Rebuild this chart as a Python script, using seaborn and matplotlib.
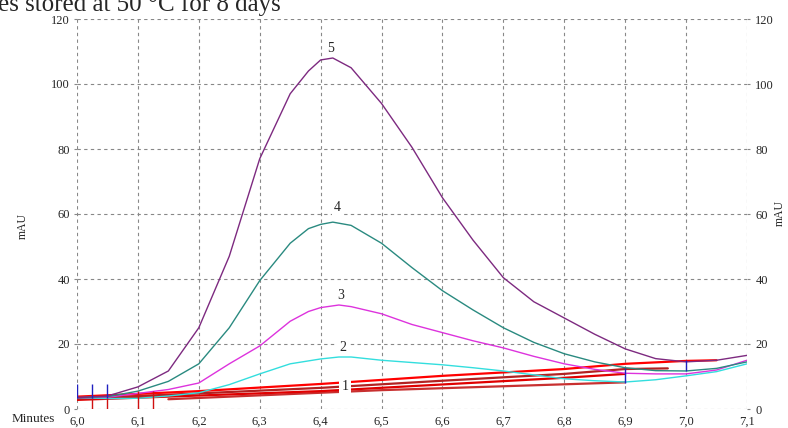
import matplotlib
matplotlib.use("Agg")
import matplotlib.pyplot as plt
import seaborn as sns
import pandas as pd

# DATA
x_tick_values = [6.0, 6.1, 6.2, 6.3, 6.4, 6.5, 6.6, 6.7, 6.8, 6.9, 7.0, 7.1]
x_tick_labels = ["6,0", "6,1", "6,2", "6,3", "6,4", "6,5", "6,6", "6,7", "6,8", "6,9", "7,0", "7,1"]
y_tick_values = [0, 20, 40, 60, 80, 100, 120]

time_5 = [6.00, 6.05, 6.10, 6.15, 6.20, 6.25, 6.30, 6.35, 6.38, 6.40, 6.42, 6.45, 6.50,
          6.55, 6.60, 6.65, 6.70, 6.75, 6.80, 6.85, 6.90, 6.95, 7.00, 7.05, 7.10]
mau_5 = [3.5, 4.0, 6.8, 11.7, 25, 47, 77, 97, 104, 107.4, 108, 105, 94,
         80.5, 65, 52, 40.4, 33, 28, 23, 18.5, 15.5, 14.5, 15, 16.5]

time_4 = [6.00, 6.05, 6.10, 6.15, 6.20, 6.25, 6.30, 6.35, 6.38, 6.40, 6.42, 6.45, 6.50,
          6.55, 6.60, 6.65, 6.70, 6.75, 6.80, 6.85, 6.90, 6.95, 7.00, 7.05, 7.10]
mau_4 = [3.5, 3.8, 5.5, 8.5, 13.9, 25, 39.5, 51, 55.5, 56.8, 57.5, 56.5, 51,
         43.5, 36.4, 30.5, 25, 20.5, 17, 14.5, 12.7, 11.8, 11.7, 12.5, 14.5]

time_3 = [6.00, 6.05, 6.10, 6.15, 6.20, 6.25, 6.30, 6.35, 6.38, 6.40, 6.43, 6.45, 6.50,
          6.55, 6.60, 6.65, 6.70, 6.75, 6.80, 6.85, 6.90, 6.95, 7.00, 7.05, 7.10]
mau_3 = [3.5, 3.6, 4.8, 6.0, 8.0, 13.9, 19.4, 27, 30, 31.2, 32, 31.5, 29.3,
         26, 23.5, 21, 18.8, 16.2, 13.9, 12.2, 11, 10.8, 10.8, 12, 15]

time_2 = [6.00, 6.05, 6.10, 6.15, 6.20, 6.25, 6.30, 6.35, 6.40, 6.43, 6.45, 6.50,
          6.55, 6.60, 6.65, 6.70, 6.75, 6.80, 6.85, 6.90, 6.95, 7.00, 7.05, 7.10]
mau_2 = [3.5, 3.2, 3.3, 4.0, 5.0, 7.5, 10.8, 13.9, 15.4, 16, 16, 15,
         14.3, 13.6, 12.7, 11.7, 10.5, 9.3, 8.7, 8.3, 9.0, 10.2, 11.5, 13.9]

# peak 1 is drawn as several overlapping red traces
time_1a = [6.00, 6.20, 6.40, 6.60, 6.80, 6.90, 7.00, 7.05]
mau_1a = [3.8, 5.5, 7.7, 10.2, 12.3, 13.9, 14.8, 15]
time_1b = [6.00, 6.20, 6.40, 6.60, 6.80, 6.90, 6.97]
mau_1b = [3.2, 4.8, 6.5, 8.7, 10.8, 12.3, 12.5]
time_1c = [6.00, 6.40, 6.80, 6.90]
mau_1c = [2.8, 5.5, 9.6, 10.8]
time_1d = [6.15, 6.50, 6.90]
mau_1d = [3.0, 5.8, 8.2]

# integration markers
blue_x = [6.0, 6.025, 6.05, 6.9, 7.0]
blue_lo = [3.4, 3.4, 3.4, 8.0, 11.7]
blue_hi = [7.7, 7.7, 7.7, 12.7, 15.0]
red_x = [6.025, 6.05, 6.1, 6.125]
red_lo = [0, 0, 0, 0]
red_hi = [3.4, 3.4, 5.5, 5.5]

peak_names = ["1", "2", "3", "4", "5"]
peak_label_x = [6.44, 6.436, 6.433, 6.428, 6.416]
peak_label_y = [6.8, 19, 35, 62, 111]

# PLOT
sns.set_style("white")
plt.rcParams["font.family"] = ["Liberation Serif", "DejaVu Serif"]

fig = plt.figure(figsize=(7.88, 4.28), dpi=100)
ax = fig.add_axes([77 / 788, 1 - 409 / 428, (747 - 77) / 788, (409 - 19) / 428])

traces = [
    (time_1d, mau_1d, "#c83030", 1.6),
    (time_1c, mau_1c, "#e00000", 1.6),
    (time_1b, mau_1b, "#b22222", 1.6),
    (time_1a, mau_1a, "#ff0000", 1.6),
    (time_2, mau_2, "#33dede", 1.0),
    (time_3, mau_3, "#dd33dd", 1.0),
    (time_4, mau_4, "#2a8a80", 1.0),
    (time_5, mau_5, "#7d2a80", 1.0),
]
for t, v, c, lw in traces:
    df = pd.DataFrame({"Minutes": t, "mAU": v})
    sns.lineplot(data=df, x="Minutes", y="mAU", color=c, lw=lw, ax=ax, sort=False)

ax.vlines(red_x, red_lo, red_hi, colors="#d01010", lw=1.0)
ax.vlines(blue_x, blue_lo, blue_hi, colors="#2020c0", lw=1.0)

for name, lx, ly in zip(peak_names, peak_label_x, peak_label_y):
    ax.text(lx, ly, name, fontsize=10, ha="center", va="center",
            bbox=dict(facecolor="white", edgecolor="none", pad=1.5))

ax.set_xlim(6.0, 7.1)
ax.set_ylim(0, 120)
ax.set_xticks(x_tick_values)
ax.set_xticklabels(x_tick_labels)
ax.set_yticks(y_tick_values)
ax.set_xlabel("")
ax.set_ylabel("")
ax.grid(True, color="#888888", linestyle=(0, (3, 3)), lw=0.8)
for s in ax.spines.values():
    s.set_visible(False)
ax.tick_params(axis="both", labelsize=9, length=2, color="#888888", pad=3)

ax2 = ax.twinx()
ax2.set_ylim(0, 120)
ax2.set_yticks(y_tick_values)
for s in ax2.spines.values():
    s.set_visible(False)
ax2.tick_params(axis="y", labelsize=9, length=2, color="#888888", pad=4)

fig.text(12 / 788, 1 - 419 / 428, "Minutes", fontsize=9.5, ha="left", va="center")
fig.text(23 / 788, 1 - 226 / 428, "mAU", fontsize=8.5, rotation=90, ha="center", va="center")
fig.text(780 / 788, 1 - 213 / 428, "mAU", fontsize=8.5, rotation=90, ha="center", va="center")
fig.text(-2 / 788, 1 - 10.5 / 428, "es stored at 50 \u00b0C for 8 days", fontsize=18,
         ha="left", va="baseline")

fig.savefig("out.png", dpi=100)
